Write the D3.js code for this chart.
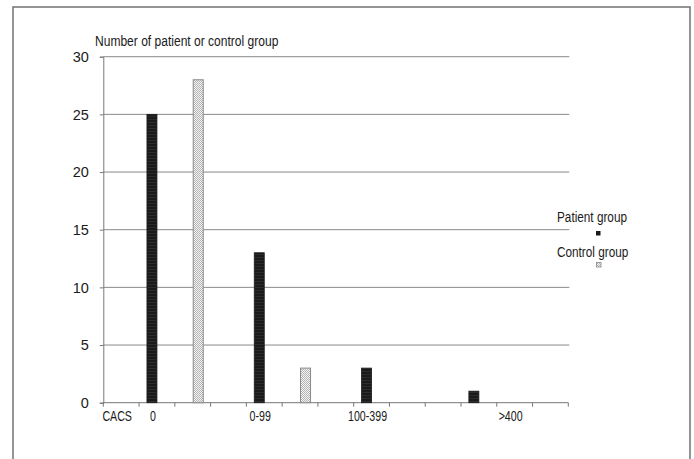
<!DOCTYPE html>
<html>
<head>
<meta charset="utf-8">
<script src="https://cdn.jsdelivr.net/npm/d3@7"></script>
<style>
  html, body { margin: 0; padding: 0; background: #fff; }
  svg { display: block; }
  text { font-family: "Liberation Sans", Arial, sans-serif; }
</style>
</head>
<body>
<svg id="chart" width="694" height="459"></svg>
<script>
// ---- data ----
const categoryLabels = ["CACS", "0", "", "", "0-99", "", "", "100-399", "", "", "", ">400", ""];
const patientValues  = [null, 25, null, null, 13, null, null, 3, null, null, 1, null, null];
const controlValues  = [null, null, 28, null, null, 3, null, null, null, null, null, null, null];
const yTicks = [0, 5, 10, 15, 20, 25, 30];
const seriesNames = ["Patient group", "Control group"];
const yTitle = "Number of patient or control group";

(function () {
const svg = d3.select("#chart");
const mLeft = 103.3, mRight = 568.3, mTop = 56.7, mBottom = 402.7;
// emulate a condensed face by compressing glyphs horizontally
function narrow(sel, k) {
  sel.each(function () {
    const len = this.getComputedTextLength();
    d3.select(this).attr("textLength", len * k).attr("lengthAdjust", "spacingAndGlyphs");
  });
}

// outer frame
svg.append("rect")
  .attr("x", 13).attr("y", 7).attr("width", 677).attr("height", 470)
  .attr("fill", "none").attr("stroke", "#7a7a7a").attr("stroke-width", 1.6);

const defs = svg.append("defs");
const pDark = defs.append("pattern").attr("id", "pDark")
  .attr("patternUnits", "userSpaceOnUse").attr("width", 4).attr("height", 3);
pDark.append("rect").attr("width", 4).attr("height", 3).attr("fill", "#1a1a1a");
pDark.append("rect").attr("y", 2).attr("width", 4).attr("height", 1).attr("fill", "#2c2c2c");

const pDot = defs.append("pattern").attr("id", "pDot")
  .attr("patternUnits", "userSpaceOnUse").attr("width", 2).attr("height", 2);
pDot.append("rect").attr("width", 2).attr("height", 2).attr("fill", "#f4f4f4");
pDot.append("rect").attr("width", 1).attr("height", 1).attr("fill", "#b4b4b4");
pDot.append("rect").attr("x", 1).attr("y", 1).attr("width", 1).attr("height", 1).attr("fill", "#b4b4b4");

const idx = d3.range(categoryLabels.length);
const x = d3.scaleBand().domain(idx).range([mLeft, mRight]).padding(0);
const y = d3.scaleLinear().domain([0, 30]).range([mBottom, mTop]);
const barW = 10;

// gridlines
svg.append("g").selectAll("line").data(yTicks.filter(d => d > 0)).join("line")
  .attr("x1", mLeft).attr("x2", mRight + 1)
  .attr("y1", d => y(d)).attr("y2", d => y(d))
  .attr("stroke", "#8a8a8a").attr("stroke-width", 1);

// y axis
const yAxis = svg.append("g").attr("transform", `translate(${mLeft},0)`)
  .call(d3.axisLeft(y).tickValues(yTicks).tickSize(3.5).tickPadding(11));
yAxis.select(".domain").attr("stroke", "#777");
yAxis.selectAll(".tick line").attr("stroke", "#777");
yAxis.selectAll("text")
  .attr("font-family", "'Liberation Sans', Arial, sans-serif")
  .attr("font-size", 14.5).attr("fill", "#1a1a1a");

// x axis line with ticks at band boundaries
const xAxisG = svg.append("g");
xAxisG.append("line").attr("x1", mLeft).attr("x2", mRight)
  .attr("y1", mBottom).attr("y2", mBottom).attr("stroke", "#777").attr("stroke-width", 1);
const bounds = idx.map(i => x(i)).concat([x(idx[idx.length - 1]) + x.bandwidth()]);
xAxisG.selectAll("line.tk").data(bounds).join("line").attr("class", "tk")
  .attr("x1", d => d).attr("x2", d => d)
  .attr("y1", mBottom).attr("y2", mBottom + 4)
  .attr("stroke", "#777");
xAxisG.selectAll("text").data(idx.filter(i => categoryLabels[i] !== "")).join("text")
  .attr("x", i => x(i) + x.bandwidth() / 2 - 4)
  .attr("y", mBottom + 18)
  .attr("text-anchor", "middle")
  .attr("font-size", 14).attr("fill", "#1a1a1a")
  .text(i => categoryLabels[i])
  .call(narrow, 0.76);

// bars
svg.append("g").selectAll("rect")
  .data(idx.filter(i => patientValues[i] != null)).join("rect")
  .attr("x", i => x(i) + x.bandwidth() / 2 - barW)
  .attr("width", barW)
  .attr("y", i => y(patientValues[i]))
  .attr("height", i => y(0) - y(patientValues[i]))
  .attr("fill", "url(#pDark)").attr("stroke", "#1a1a1a").attr("stroke-width", 0.8);

svg.append("g").selectAll("rect")
  .data(idx.filter(i => controlValues[i] != null)).join("rect")
  .attr("x", i => x(i) + x.bandwidth() / 2 + 0.5)
  .attr("width", barW)
  .attr("y", i => y(controlValues[i]))
  .attr("height", i => y(0) - y(controlValues[i]))
  .attr("fill", "url(#pDot)").attr("stroke", "#8a8a8a").attr("stroke-width", 1);

// title
svg.append("text")
  .attr("x", 95).attr("y", 46)
  .attr("font-size", 14).attr("fill", "#1a1a1a")
  .text(yTitle)
  .call(narrow, 0.86);

// legend
const legend = svg.append("g");
const legY = [222, 257];
legend.selectAll("text").data(seriesNames).join("text")
  .attr("x", 557).attr("y", (d, i) => legY[i])
  .attr("font-size", 14).attr("fill", "#1a1a1a")
  .text(d => d)
  .call(narrow, 0.84);
legend.append("rect").attr("x", 596).attr("y", 231).attr("width", 4.5).attr("height", 4.5)
  .attr("fill", "#1a1a1a");
legend.append("rect").attr("x", 596.5).attr("y", 262.5).attr("width", 4.5).attr("height", 4.5)
  .attr("fill", "url(#pDot)").attr("stroke", "#888").attr("stroke-width", 0.8);
})();
</script>
</body>
</html>
